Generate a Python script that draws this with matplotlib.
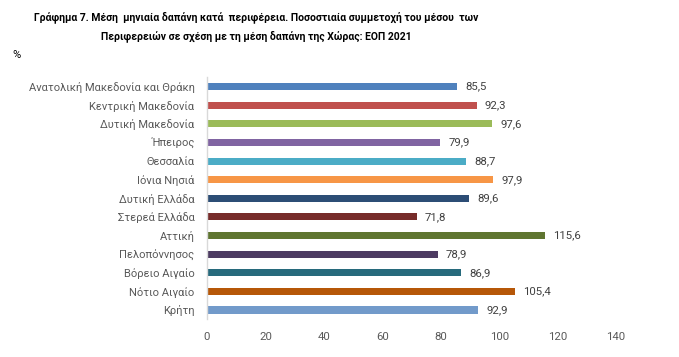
import matplotlib
matplotlib.use("Agg")
import matplotlib.pyplot as plt

categories = ["Ανατολική Μακεδονία και Θράκη", "Κεντρική Μακεδονία", "Δυτική Μακεδονία",
              "Ήπειρος", "Θεσσαλία", "Ιόνια Νησιά", "Δυτική Ελλάδα", "Στερεά Ελλάδα",
              "Αττική", "Πελοπόννησος", "Βόρειο Αιγαίο", "Νότιο Αιγαίο", "Κρήτη"]
values = [85.5, 92.3, 97.6, 79.9, 88.7, 97.9, 89.6, 71.8, 115.6, 78.9, 86.9, 105.4, 92.9]
colors = ["#4F81BD", "#C0504D", "#9BBB59", "#8064A2", "#4BACC6", "#F79646", "#2C4D75",
          "#772C2A", "#5F7530", "#4D3B62", "#276A7C", "#B65708", "#729ACA"]
xticks = [0, 20, 40, 60, 80, 100, 120, 140]

plt.rcParams['font.family'] = ['Roboto', 'DejaVu Sans']

fig = plt.figure(figsize=(6.79, 3.57), dpi=100)
ax = fig.add_axes([207/679, 1-319.3/357, (616-207)/679, (319.3-77.4)/357])

y = list(range(len(categories)))
ax.barh(y, values, height=0.38, color=colors)
ax.set_ylim(len(categories)-0.5, -0.5)
ax.set_xlim(0, 140)
ax.set_yticks(y)
ax.set_yticklabels(categories, fontsize=8, color="#595959")
ax.set_xticks(xticks)
ax.set_xticklabels([str(t) for t in xticks], fontsize=8.2, color="#595959")
ax.tick_params(axis='both', length=0)
ax.tick_params(axis='y', pad=9)
ax.tick_params(axis='x', pad=9)
for s in ["top", "right", "bottom"]:
    ax.spines[s].set_visible(False)
ax.spines["left"].set_color("#D9D9D9")
ax.spines["left"].set_linewidth(1)

for yi, v in zip(y, values):
    ax.annotate(f"{v:.1f}".replace(".", ","), xy=(v, yi), xytext=(6, 0),
                textcoords="offset points", va="center", ha="left",
                fontsize=8.2, color="#404040")

fig.text(256/679, 1-17/357, "Γράφημα 7. Μέση  μηνιαία δαπάνη κατά  περιφέρεια. Ποσοστιαία συμμετοχή του μέσου  των",
         ha="center", va="center", fontsize=7.5, fontweight="bold", color="#000000")
fig.text(256/679, 1-36/357, "Περιφερειών σε σχέση με τη μέση δαπάνη της Χώρας: ΕΟΠ 2021",
         ha="center", va="center", fontsize=7.5, fontweight="bold", color="#000000")
fig.text(12/679, 1-55/357, "%", ha="left", va="center", fontsize=8, color="#000000")

fig.savefig("out.png", dpi=100, facecolor="white")
